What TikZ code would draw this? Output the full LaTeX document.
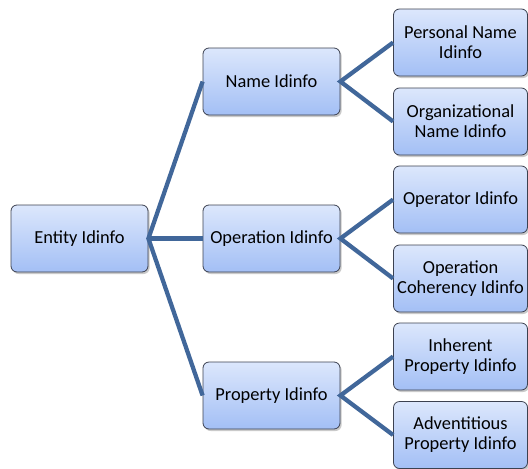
\documentclass[tikz,border=0pt]{standalone}
\usepackage{fontspec}
\setmainfont{Carlito}
\usetikzlibrary{shadows}
\definecolor{linkblue}{HTML}{41679A}
\definecolor{boxtop}{HTML}{DCE7FC}
\definecolor{boxbottom}{HTML}{A3BFF5}
\definecolor{boxedge}{HTML}{3C4150}
\tikzset{
  px/.style={x=0.75pt,y=-0.75pt},
  idbox/.style={draw=boxedge, line width=0.6pt, rounded corners=4.5pt,
    top color=boxtop, bottom color=boxbottom,
    minimum height=50.25pt, inner sep=1pt, align=center,
    font=\fontsize{13.8}{15}\selectfont,
    drop shadow={shadow xshift=1.2pt, shadow yshift=-1.5pt, opacity=0.35, fill=black!60}},
  midbox/.style={idbox, minimum width=102.75pt},
  leafbox/.style={idbox, minimum width=100.5pt},
  link/.style={draw=linkblue, line width=3.2pt}
}
\begin{document}
\begin{tikzpicture}[px]
  \useasboundingbox (0,0) rectangle (528,468);
  % root
  \node[midbox] (entity) at (79.5,238.5) {Entity Idinfo};
  % second level
  \node[midbox] (name) at (271.5,81.5) {Name Idinfo};
  \node[midbox] (oper) at (271.5,238.5) {Operation Idinfo};
  \node[midbox] (prop) at (271.5,395.5) {Property Idinfo};
  % leaves
  \node[leafbox] (personal) at (460.5,42.5) {Personal Name\\Idinfo};
  \node[leafbox] (org) at (460.5,121.5) {Organizational\\Name Idinfo};
  \node[leafbox] (operator) at (460.5,199.5) {Operator Idinfo};
  \node[leafbox] (coher) at (460.5,278.5) {Operation\\Coherency Idinfo};
  \node[leafbox] (inher) at (460.5,356.5) {Inherent\\Property Idinfo};
  \node[leafbox] (advent) at (460.5,435) {Adventitious\\Property Idinfo};
  % connectors
  \draw[link] (name.west) -- (entity.east) -- (prop.west);
  \draw[link] (entity.east) -- (oper.west);
  \draw[link] (personal.west) -- (name.east) -- (org.west);
  \draw[link] (operator.west) -- (oper.east) -- (coher.west);
  \draw[link] (inher.west) -- (prop.east) -- (advent.west);
\end{tikzpicture}
\end{document}
